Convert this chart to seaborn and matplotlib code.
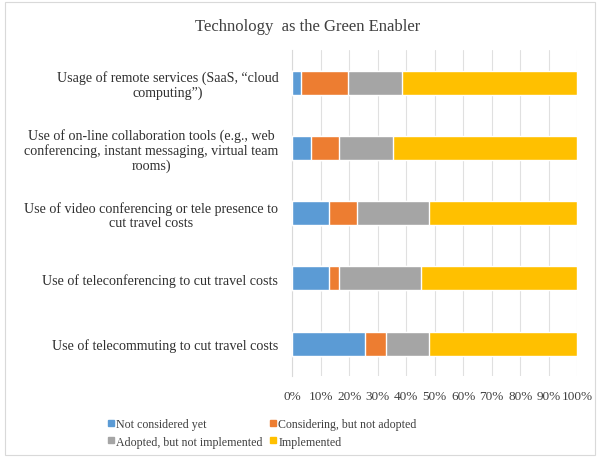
import matplotlib
matplotlib.use("Agg")
import matplotlib.pyplot as plt
import seaborn as sns
import pandas as pd
import numpy as np
from matplotlib.lines import Line2D
from matplotlib.patches import Rectangle

categories = [
    "Usage of remote services (SaaS, \u201ccloud\ncomputing\u201d)",
    "Use of on-line collaboration tools (e.g., web\nconferencing, instant messaging, virtual team\nrooms)",
    "Use of video conferencing or tele presence to\ncut travel costs",
    "Use of teleconferencing to cut travel costs",
    "Use of telecommuting to cut travel costs",
]
series_names = ["Not considered yet", "Considering, but not adopted",
                "Adopted, but not implemented", "Implemented"]
not_considered = [3.2, 6.7, 12.9, 12.9, 25.5]
considering = [16.4, 9.7, 9.9, 3.5, 7.4]
adopted = [18.8, 18.8, 25.2, 28.7, 15.2]
implemented = [61.6, 64.8, 52.0, 54.9, 51.9]
tick_labels = ["0%", "10%", "20%", "30%", "40%", "50%", "60%", "70%", "80%", "90%", "100%"]
colors = ["#5B9BD5", "#ED7D31", "#A5A5A5", "#FFC000"]

sns.set_theme(style="white")
plt.rcParams["font.family"] = ["Liberation Serif", "DejaVu Serif"]

series = [not_considered, considering, adopted, implemented]
cum = np.cumsum(np.array(series), axis=0)

fig = plt.figure(figsize=(6, 4.64), dpi=100)
ax = fig.add_axes([0.487, 0.187, 0.475, 0.703])

for i in range(3, -1, -1):
    df = pd.DataFrame({"cat": categories, "val": cum[i]})
    sns.barplot(data=df, x="val", y="cat", orient="h", color=colors[i],
                width=0.37, saturation=1, ax=ax, zorder=3)

ax.set_xlim(0, 100)
ax.set_xticks(np.arange(0, 101, 10))
ax.set_xticklabels(tick_labels, fontsize=9.5, color="#404040")
ax.tick_params(axis="x", length=0, pad=10)
ax.tick_params(axis="y", length=0, pad=10)
for lab in ax.get_yticklabels():
    lab.set_multialignment("center")
    lab.set_fontsize(10.1)
    lab.set_color("#303030")
    lab.set_linespacing(1.12)
ax.set_xlabel("")
ax.set_ylabel("")
ax.grid(axis="x", color="#E0E0E0", linewidth=0.8, zorder=0)
ax.set_axisbelow(True)
for s in ["top", "right", "bottom"]:
    ax.spines[s].set_visible(False)
ax.spines["left"].set_color("#D9D9D9")
ax.spines["left"].set_linewidth(0.8)

fig.text(0.512, 0.942, "Technology  as the Green Enabler", ha="center", va="center",
         fontsize=12, color="#404040")

order = [0, 2, 1, 3]
handles = [Line2D([0], [0], marker="s", linestyle="", markersize=4,
                  markerfacecolor=colors[k], markeredgecolor=colors[k]) for k in order]
labels = [series_names[k] for k in order]
fig.legend(handles, labels, loc="center", bbox_to_anchor=(0.437, 0.065),
           ncol=2, frameon=False, fontsize=8.6, handletextpad=0.1,
           columnspacing=0.6, labelspacing=0.45, handlelength=0.6,
           labelcolor="#404040")

fig.patches.append(Rectangle((0.008, 0.018), 0.984, 0.975, transform=fig.transFigure,
                             fill=False, edgecolor="#D9D9D9", linewidth=0.8))

fig.savefig("out.png", dpi=100)
